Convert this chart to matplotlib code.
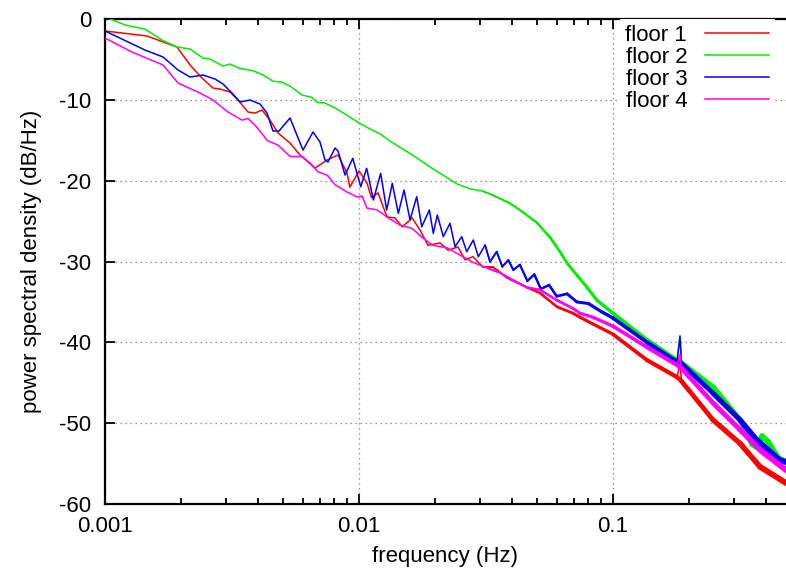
import numpy as np
import matplotlib
matplotlib.use('Agg')
import matplotlib.pyplot as plt
from matplotlib.collections import LineCollection
from matplotlib.ticker import FixedLocator, LogLocator, NullFormatter, FuncFormatter

# values (frequency in Hz, PSD in dB/Hz)
f1 = [0.001, 0.001463, 0.00192, 0.002162, 0.002409, 0.002662, 0.002837, 0.003105, 0.003339,
      0.003656, 0.003896, 0.004151, 0.004462, 0.004798, 0.00535, 0.005857, 0.006711, 0.007482,
      0.008267, 0.00897, 0.0092, 0.01, 0.01075, 0.0112, 0.01188, 0.01289, 0.01386, 0.01477,
      0.01559, 0.01617, 0.01739, 0.01869, 0.02084, 0.02241, 0.02454, 0.02615, 0.02811, 0.03077,
      0.03371, 0.03825, 0.04585, 0.05159, 0.06019, 0.06958, 0.07416, 0.1, 0.1361, 0.1786,
      0.1836, 0.186, 0.2476, 0.3162, 0.3791, 0.4798]
p1 = [-1.48, -2.1, -3.46, -5.69, -7.3, -8.54, -8.66, -9.03, -10.02,
      -11.51, -11.63, -11.26, -12.5, -14.1, -15.34, -16.83, -18.44, -17.45,
      -16.83, -19.05, -20.8, -18.8, -20.3, -22.1, -21.5, -24.5, -24.6, -25.7,
      -25.1, -24.6, -26.1, -28.0, -27.7, -28.6, -28.2, -29.8, -29.4, -30.7,
      -30.7, -32.0, -33.2, -33.9, -35.6, -36.4, -36.9, -39.0, -42.2, -44.3,
      -42.6, -44.8, -49.6, -52.5, -55.4, -57.4]

f2 = [0.001, 0.001075, 0.001199, 0.001437, 0.001676, 0.00192, 0.002162, 0.002431, 0.002591,
      0.002914, 0.003105, 0.0034, 0.003825, 0.004188, 0.004585, 0.004976, 0.00535, 0.005965,
      0.006531, 0.006833, 0.007347, 0.008045, 0.00897, 0.00982, 0.01105, 0.0121, 0.01324,
      0.01491, 0.01692, 0.01903, 0.02141, 0.02432, 0.0274, 0.03077, 0.03371, 0.0393, 0.04422,
      0.0502, 0.05649, 0.06184, 0.06592, 0.07217, 0.07902, 0.0865, 0.09472, 0.1, 0.1361,
      0.1786, 0.1836, 0.186, 0.2476, 0.3162, 0.3526, 0.369, 0.3861, 0.4076, 0.4462, 0.4798]
p2 = [0.2, -0.12, -0.74, -1.24, -2.6, -3.46, -3.71, -4.83, -4.95,
      -5.82, -5.57, -6.1, -6.4, -6.9, -7.7, -7.8, -8.3, -9.4,
      -9.7, -10.3, -10.4, -11.0, -11.9, -12.7, -13.6, -14.2, -15.1,
      -16.1, -17.2, -18.3, -19.3, -20.4, -21.0, -21.3, -21.8, -22.8, -23.9,
      -25.2, -27.0, -28.8, -30.2, -31.7, -33.2, -34.8, -35.8, -36.4, -39.7,
      -42.2, -39.1, -42.5, -45.5, -49.6, -52.6, -53.0, -51.6, -52.3, -54.3, -54.8]

f3 = [0.001, 0.001437, 0.001692, 0.001939, 0.002162, 0.002431, 0.002711, 0.002914, 0.003162,
      0.0034, 0.003724, 0.004076, 0.004343, 0.004585, 0.004842, 0.00535, 0.006019, 0.006592,
      0.007023, 0.007347, 0.007551, 0.008045, 0.008267, 0.00881, 0.00945, 0.01016, 0.01072,
      0.01139, 0.01217, 0.01285, 0.01352, 0.01428, 0.01504, 0.01588, 0.01687, 0.01766,
      0.01892, 0.01961, 0.02034, 0.02147, 0.02282, 0.02388, 0.02537, 0.02655, 0.02818,
      0.02949, 0.03134, 0.03279, 0.03484, 0.03666, 0.03871, 0.04051, 0.043, 0.046, 0.049,
      0.052, 0.056, 0.06, 0.066, 0.072, 0.08, 0.09, 0.1, 0.1361, 0.1786, 0.1836, 0.186,
      0.2476, 0.3162, 0.369, 0.4545, 0.4798]
p3 = [-1.48, -3.84, -4.7, -6.31, -7.18, -6.93, -7.42, -8.04, -9.16,
      -10.27, -10.02, -10.52, -11.63, -13.86, -13.86, -12.25, -16.21, -13.98,
      -15.22, -17.44, -17.69, -15.96, -16.33, -19.3, -17.23, -20.75, -18.47,
      -22.39, -19.09, -23.63, -20.33, -24.04, -21.16, -24.87, -21.98, -25.7,
      -23.63, -26.51, -24.25, -26.93, -25.27, -28.17, -26.93, -28.79, -27.34,
      -29.41, -27.96, -30.03, -28.79, -30.64, -29.82, -31.05, -30.4, -32.4, -31.6,
      -33.4, -32.9, -34.3, -34.0, -35.0, -35.2, -36.2, -37.0, -40.0, -42.4, -39.3, -42.6,
      -46.3, -49.6, -52.1, -54.6, -54.8]

f4 = [0.001, 0.001277, 0.001692, 0.001939, 0.002366, 0.002662, 0.00305, 0.003462, 0.003656,
      0.003967, 0.004343, 0.004798, 0.00535, 0.005965, 0.006413, 0.006896, 0.007482, 0.008045,
      0.00897, 0.00982, 0.01028, 0.01075, 0.01177, 0.01289, 0.0145, 0.01617, 0.01786, 0.01956,
      0.02221, 0.02499, 0.02811, 0.03191, 0.03591, 0.0404, 0.04585, 0.05159, 0.06019, 0.06958,
      0.07416, 0.08343, 0.1, 0.1361, 0.1786, 0.1836, 0.186, 0.2476, 0.3162, 0.3791, 0.4798]
p4 = [-2.35, -4.08, -5.69, -7.92, -9.15, -10.02, -11.51, -12.5, -12.3,
      -13.4, -15.0, -15.6, -17.0, -17.0, -17.8, -18.9, -19.3, -20.5,
      -21.4, -22.0, -21.9, -23.4, -23.6, -24.5, -25.5, -25.9, -27.1, -28.0,
      -28.3, -29.2, -30.1, -30.8, -31.4, -32.3, -33.2, -33.5, -34.8, -35.8,
      -36.4, -36.9, -38.0, -40.6, -42.8, -41.5, -43.2, -47.5, -50.8, -53.3, -55.8]

labels = ['floor 1', 'floor 2', 'floor 3', 'floor 4']
colors = ['#ff0000', '#00ee00', '#0000ff', '#ff00ff']
spike_f = 0.1836   # narrow peak at ~0.18 Hz, kept thin

plt.rcParams['font.family'] = ['Liberation Sans', 'DejaVu Sans']
plt.rcParams['axes.unicode_minus'] = False

fig = plt.figure(figsize=(7.86, 5.76), dpi=100)
ax = fig.add_axes([105/786, 72/576, 681/786, 485/576])

series = [(f1, p1), (f2, p2), (f3, p3), (f4, p4)]
for (f, p), lab, col in zip(series, labels, colors):
    f = np.array(f)
    p = np.array(p)
    ax.plot(f, p, color=col, lw=1.1, label=lab, zorder=3)
    # the spectra get noisy at high frequency -> widen the trace gradually there
    m = (f >= 0.03) & (f != spike_f)
    fx, px = f[m], p[m]
    segs = [[(fx[i], px[i]), (fx[i + 1], px[i + 1])] for i in range(len(fx) - 1)]
    fm = np.sqrt(fx[:-1] * fx[1:])
    widths = 1.1 + 3.2 * np.clip(np.log10(fm / 0.03) / np.log10(0.48 / 0.03), 0, 1)
    lc = LineCollection(segs, colors=col, linewidths=widths, capstyle='round', zorder=3)
    ax.add_collection(lc)

ax.set_xscale('log')
ax.set_xlim(0.001, 0.4798)
ax.set_ylim(-60, 0)

ax.xaxis.set_major_locator(FixedLocator([0.001, 0.01, 0.1]))
ax.xaxis.set_major_formatter(FuncFormatter(lambda v, pos: '%g' % v))
ax.xaxis.set_minor_locator(LogLocator(base=10, subs=np.arange(2, 10)))
ax.xaxis.set_minor_formatter(NullFormatter())
ax.set_yticks([0, -10, -20, -30, -40, -50, -60])

ax.grid(True, which='major', linestyle=(0, (1, 3)), color='#777777', lw=0.9, zorder=1)
ax.tick_params(which='both', direction='in', top=True, right=False, width=1.3, labelsize=16)
ax.tick_params(which='major', length=7)
ax.tick_params(which='minor', length=4)
ax.tick_params(axis='x', pad=9)
ax.tick_params(axis='y', pad=10)
for s in ['left', 'bottom', 'top']:
    ax.spines[s].set_linewidth(1.6)
ax.spines['right'].set_visible(False)

ax.set_xlabel('frequency (Hz)', fontsize=16, labelpad=6)
ax.set_ylabel('power spectral density (dB/Hz)', fontsize=16, labelpad=12)

leg = ax.legend(loc='upper right', bbox_to_anchor=(775/786, 1 - 19/576),
                bbox_transform=fig.transFigure, markerfirst=False, fontsize=16,
                frameon=True, facecolor='white', edgecolor='none', framealpha=1,
                fancybox=False, borderpad=0.25, handlelength=2.9, handletextpad=0.8,
                labelspacing=0.05, borderaxespad=0)
leg.set_zorder(5)

fig.savefig('out.png', dpi=100)
